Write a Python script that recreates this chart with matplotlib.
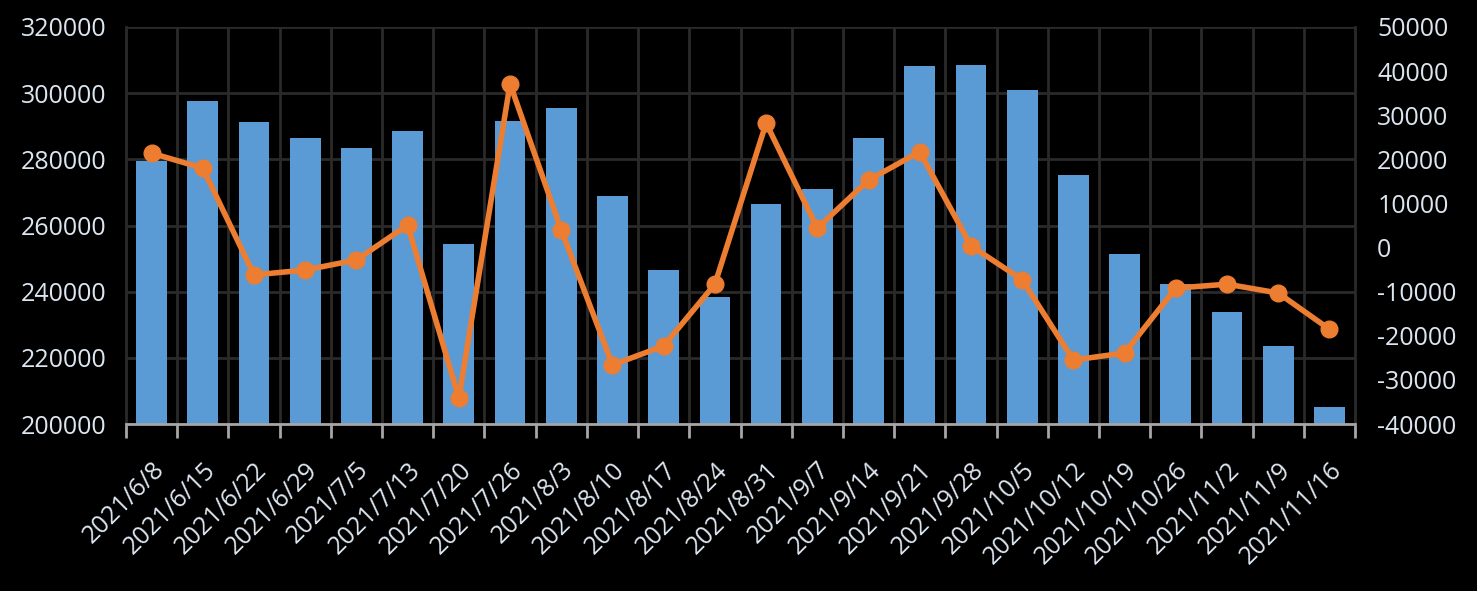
import numpy as np
import matplotlib.pyplot as plt

# weekly data
dates = ['2021/6/8', '2021/6/15', '2021/6/22', '2021/6/29', '2021/7/5', '2021/7/13',
         '2021/7/20', '2021/7/26', '2021/8/3', '2021/8/10', '2021/8/17', '2021/8/24',
         '2021/8/31', '2021/9/7', '2021/9/14', '2021/9/21', '2021/9/28', '2021/10/5',
         '2021/10/12', '2021/10/19', '2021/10/26', '2021/11/2', '2021/11/9', '2021/11/16']
totals = [279500, 297600, 291300, 286500, 283400, 288600, 254400, 291600, 295500, 268900,
          246600, 238400, 266500, 271000, 286500, 308200, 308500, 301000, 275300, 251400,
          242300, 233900, 223600, 205100]
changes = [21400, 18000, -6200, -5100, -2800, 5100, -34100, 37100, 4000, -26600,
           -22300, -8300, 28200, 4400, 15300, 21700, 400, -7300, -25500, -23900,
           -9200, -8300, -10300, -18500]

txt = '#dce6f0'
grid = '#2a2a2a'
plt.rcParams['font.family'] = ['Open Sans', 'DejaVu Sans']
plt.rcParams['axes.unicode_minus'] = False

fig = plt.figure(figsize=(14.77, 5.91), dpi=100, facecolor='black')
ax = fig.add_axes([126/1477, 1 - 424/591, (1355-126)/1477, (424-27)/591])
ax.set_facecolor('black')
x = np.arange(len(dates))

ax.bar(x, totals, width=0.6, color='#5b9bd5', zorder=2)
ax.set_xlim(-0.5, len(dates) - 0.5)
ax.set_ylim(200000, 320000)
ax.set_yticks(np.arange(200000, 320001, 20000))
ax.yaxis.grid(True, color=grid, linewidth=2, zorder=0)
for b in np.arange(0.5, len(dates) - 1, 1):
    ax.axvline(b, color=grid, linewidth=2, zorder=0)

ax.set_xticks(x)
ax.set_xticklabels(dates, rotation=45, ha='right', rotation_mode='anchor')
ax.set_xticks(np.arange(-0.5, len(dates), 1), minor=True)
ax.tick_params(axis='x', which='major', length=0, pad=24, labelsize=18, labelcolor=txt)
ax.tick_params(axis='x', which='minor', length=10, width=2, color='#a6a6a6')
ax.tick_params(axis='y', length=0, pad=14, labelsize=18, labelcolor=txt)
for lbl in ax.get_xticklabels():
    lbl.set_x(lbl.get_position()[0] + 0.15)
for s in ['left', 'right', 'top']:
    ax.spines[s].set_color(grid)
    ax.spines[s].set_linewidth(2)
ax.spines['top'].set_visible(False)
ax.spines['bottom'].set_color('#a6a6a6')
ax.spines['bottom'].set_linewidth(2)

ax2 = ax.twinx()
ax2.plot(x, changes, color='#ed7d31', linewidth=4, marker='o', markersize=12, zorder=3)
ax2.set_ylim(-40000, 50000)
ax2.set_yticks(np.arange(-40000, 50001, 10000))
ax2.tick_params(axis='y', length=0, pad=16, labelsize=18, labelcolor=txt)
for s in ax2.spines.values():
    s.set_visible(False)

fig.savefig('out.png', dpi=100, facecolor='black')
